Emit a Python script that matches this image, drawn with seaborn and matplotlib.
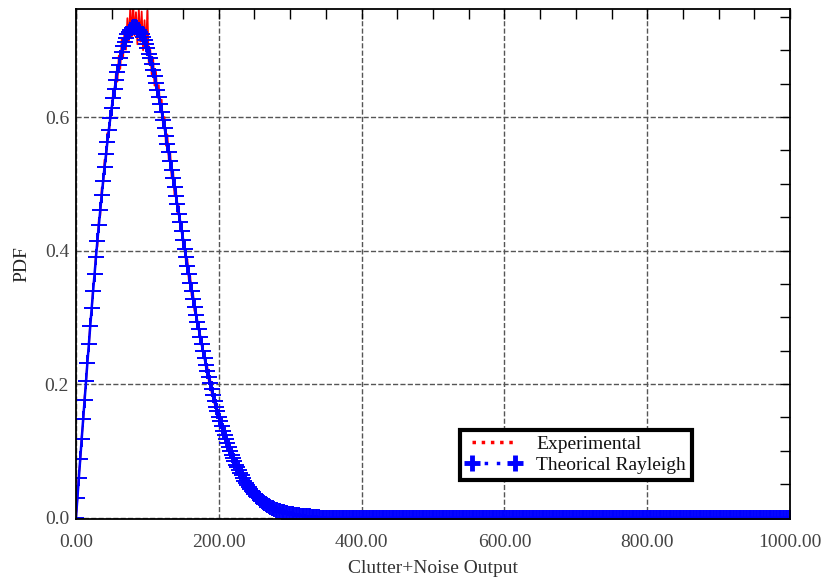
import numpy as np
import matplotlib
matplotlib.use("Agg")
import matplotlib.pyplot as plt
from matplotlib.lines import Line2D
from matplotlib.ticker import MultipleLocator
import seaborn as sns

# experimental histogram PDF (x step 2, 0..300)
exp_y = [
    0.000, .028, .064, .085, .121, .142, .181, .199, .238, .254,
    .295, .308, .348, .359, .398, .406, .447, .452, .494, .497,
    .536, .533, .576, .571, .601, .602, .641, .630, .668, .653,
    .692, .672, .716, .689, .731, .701, .748, .712, .764, .718,
    .771, .722, .757, .709, .762, .713, .758, .700, .745, .698,
    .759, .679, .701, .664, .689, .647, .668, .629, .648, .608,
    .626, .584, .600, .557, .574, .535, .547, .508, .521, .483,
    .494, .457, .467, .432, .440, .406, .413, .381, .387, .356,
    .362, .332, .337, .309, .312, .286, .290, .264, .267, .243,
    .246, .223, .226, .204, .207, .186, .188, .170, .171, .154,
    .155, .140, .140, .126, .127, .113, .114, .102, .102, .091,
    .092, .081, .082, .072, .073, .064, .065, .057, .057, .050,
    .050, .044, .044, .039, .039, .034, .034, .030, .030, .026,
    .026, .023, .023, .020, .020, .017, .017, .015, .015, .013,
    .013, .011, .011, .010, .009, .008, .008, .007, .007, .006,
    .006,
]
exp_x = np.arange(0, 301, 2)

# theoretical Rayleigh curve (x step 2, 0..340), then flat at zero to 1000
theo_head = [
    0.0, .030, .059, .088, .118, .147, .176, .204, .232, .260,
    .287, .314, .340, .365, .390, .415, .438, .461, .483, .504,
    .525, .544, .563, .581, .598, .614, .629, .642, .655, .667,
    .678, .688, .698, .706, .713, .719, .724, .728, .731, .733,
    .735, .735, .735, .733, .731, .728, .725, .720, .715, .709,
    .703, .695, .688, .679, .671, .661, .651, .641, .630, .619,
    .608, .596, .584, .572, .559, .547, .534, .521, .508, .495,
    .482, .469, .455, .442, .429, .416, .403, .390, .377, .365,
    .352, .340, .328, .316, .304, .293, .282, .271, .260, .249,
    .239, .229, .219, .210, .201, .192, .183, .175, .166, .159,
    .151, .144, .137, .130, .123, .117, .111, .105, .099, .094,
    .089, .084, .079, .075, .071, .067, .063, .059, .055, .052,
    .049, .046, .043, .040, .038, .035, .033, .031, .029, .027,
    .025, .024, .022, .020, .019, .018, .016, .015, .014, .013,
    .012, .011, .010, .0097, .0089, .0082, .0076, .0070, .0065, .0060,
    .0055, .0051, .0047, .0043, .0039, .0036, .0033, .0030, .0028, .0025,
    .0023, .0021, .0019, .0018, .0016, .0015, .0014, .0012, .0011, .0010,
    .0009,
]
theo_tail = [
    0, 0, 0, 0, 0, 0, 0, 0, 0, 0, 0, 0, 0, 0, 0, 0, 0, 0, 0, 0, 0, 0, 0, 0, 0, 0, 0, 0, 0, 0,
    0, 0, 0, 0, 0, 0, 0, 0, 0, 0, 0, 0, 0, 0, 0, 0, 0, 0, 0, 0, 0, 0, 0, 0, 0, 0, 0, 0, 0, 0,
    0, 0, 0, 0, 0, 0, 0, 0, 0, 0, 0, 0, 0, 0, 0, 0, 0, 0, 0, 0, 0, 0, 0, 0, 0, 0, 0, 0, 0, 0,
    0, 0, 0, 0, 0, 0, 0, 0, 0, 0, 0, 0, 0, 0, 0, 0, 0, 0, 0, 0, 0, 0, 0, 0, 0, 0, 0, 0, 0, 0,
    0, 0, 0, 0, 0, 0, 0, 0, 0, 0, 0, 0, 0, 0, 0, 0, 0, 0, 0, 0, 0, 0, 0, 0, 0, 0, 0, 0, 0, 0,
    0, 0, 0, 0, 0, 0, 0, 0, 0, 0, 0, 0, 0, 0, 0, 0, 0, 0, 0, 0, 0, 0, 0, 0, 0, 0, 0, 0, 0, 0,
    0, 0, 0, 0, 0, 0, 0, 0, 0, 0, 0, 0, 0, 0, 0, 0, 0, 0, 0, 0, 0, 0, 0, 0, 0, 0, 0, 0, 0, 0,
    0, 0, 0, 0, 0, 0, 0, 0, 0, 0, 0, 0, 0, 0, 0, 0, 0, 0, 0, 0, 0, 0, 0, 0, 0, 0, 0, 0, 0, 0,
    0, 0, 0, 0, 0, 0, 0, 0, 0, 0, 0, 0, 0, 0, 0, 0, 0, 0, 0, 0, 0, 0, 0, 0, 0, 0, 0, 0, 0, 0,
    0, 0, 0, 0, 0, 0, 0, 0, 0, 0, 0, 0, 0, 0, 0, 0, 0, 0, 0, 0, 0, 0, 0, 0, 0, 0, 0, 0, 0, 0,
    0, 0, 0, 0, 0, 0, 0, 0, 0, 0, 0, 0, 0, 0, 0, 0, 0, 0, 0, 0, 0, 0, 0, 0, 0, 0, 0, 0, 0, 0,
]
theo_y = theo_head + theo_tail
theo_x = np.arange(0, 1001, 2)

x_ticks = [0, 200, 400, 600, 800, 1000]
y_ticks = [0.0, 0.2, 0.4, 0.6]

sns.set_theme(style="white")
plt.rcParams["font.family"] = ["Liberation Serif", "DejaVu Serif"]

fig = plt.figure(figsize=(8.25, 5.85), dpi=100)
ax = fig.add_axes([0.0921, 0.1128, 0.8655, 0.8718])

sns.lineplot(x=exp_x, y=exp_y, ax=ax, color="red", lw=1.3)
sns.lineplot(x=theo_x, y=theo_y, ax=ax, color="blue", lw=1.8,
             marker="+", markersize=11, markeredgewidth=1.4,
             markeredgecolor="blue", markerfacecolor="blue")

ax.set_xlim(0, 1000)
ax.set_ylim(-0.0022, 0.7618)
ax.set_xticks(x_ticks)
ax.set_xticklabels([f"{v:.2f}" for v in x_ticks])
ax.set_yticks(y_ticks)
ax.set_yticklabels([f"{v:.1f}" for v in y_ticks])
ax.xaxis.set_minor_locator(MultipleLocator(50))
ax.yaxis.set_minor_locator(MultipleLocator(0.05))
ax.tick_params(which="both", direction="in", top=True, right=True,
               length=7, width=1, color="black", labelcolor="#444", labelsize=14)
ax.tick_params(axis="x", which="major", pad=11)
ax.tick_params(axis="y", which="major", pad=5)
ax.grid(True, which="major", ls="--", color="#555", lw=1)
for s in ax.spines.values():
    s.set_color("black")
    s.set_linewidth(1.3)

ax.set_xlabel("Clutter+Noise Output", fontsize=14, color="#333", labelpad=6)
ax.set_ylabel("PDF", fontsize=14, color="#222", labelpad=10)

handles = [
    Line2D([0], [0], color="red", ls=":", lw=2.5),
    Line2D([0], [0], color="blue", ls=(0, (1, 2.5)), lw=2.5, marker="+",
           markersize=12, markeredgewidth=3.5),
]
leg = ax.legend(handles, ["Experimental", "Theorical Rayleigh"],
                loc="upper left", bbox_to_anchor=(0.538, 0.175),
                fontsize=14, numpoints=2, handlelength=2.8, handletextpad=0.8,
                borderpad=0.3, labelspacing=0.15, fancybox=False,
                framealpha=1, borderaxespad=0)
leg.get_frame().set_linewidth(3)
leg.get_frame().set_edgecolor("black")
for t in leg.get_texts():
    t.set_color("#111")

plt.savefig("out.png", dpi=100)
